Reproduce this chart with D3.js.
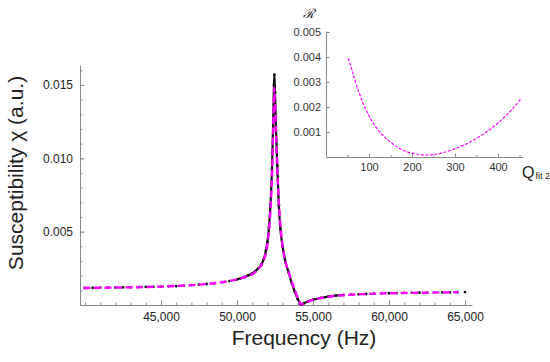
<!DOCTYPE html>
<html>
<head>
<meta charset="utf-8">
<script src="https://cdn.jsdelivr.net/npm/d3@7"></script>
<style>
  body { margin: 0; background: #fff; }
  text { font-family: "Liberation Sans", Arial, sans-serif; }
</style>
</head>
<body>
<div id="chart"></div>
<script>

// measured data (black dots), sparse parts
var dataFreqLeft = [40000, 40500, 41000, 41500, 42000, 42500, 43000, 43500, 44000, 44500,
    45000, 45500, 46000, 46500, 47000, 47500, 48000, 48500, 49000, 49500];
var dataChiLeft = [0.00116, 0.00117, 0.00118, 0.00118, 0.00119, 0.00120, 0.00121, 0.00122, 0.00123, 0.00124,
    0.00125, 0.00127, 0.00129, 0.00132, 0.00135, 0.00139, 0.00143, 0.00148, 0.00155, 0.00163];

// dense part around the resonance
var dataFreqMid = [50000, 50250, 50500, 50750, 51000, 51200, 51400, 51600, 51750, 51900,
    52000, 52100, 52200, 52300, 52380, 52430, 52460, 52500, 52560, 52650,
    52750, 52850, 53000, 53200, 53400, 53600, 53800, 54000, 54150, 54250,
    54400, 54700, 55000, 55500, 56000, 56500, 57000];
var dataChiMid = [0.00174, 0.00182, 0.00191, 0.00202, 0.00215, 0.00230, 0.00250, 0.00276, 0.00310, 0.00370,
    0.00430, 0.00530, 0.00680, 0.00920, 0.01250, 0.01500, 0.01570, 0.01450, 0.01220, 0.00950,
    0.00680, 0.00520, 0.00400, 0.00290, 0.00220, 0.00150, 0.00090, 0.00040, 0.00008, 0.00002,
    0.00012, 0.00026, 0.00036, 0.00048, 0.00057, 0.00064, 0.00068];

var dataFreqRight = [57500, 58000, 58500, 59000, 59500, 60000, 60500, 61000, 61500, 62000,
    62500, 63000, 63500, 64000, 64500, 65000];
var dataChiRight = [0.00071, 0.00073, 0.00075, 0.00077, 0.00078, 0.00080, 0.00081, 0.00082, 0.00083, 0.00084,
    0.00084, 0.00085, 0.00086, 0.00086, 0.00087, 0.00088];

// fit curve (magenta dashed)
var fitFreq = [39900, 42000, 44000, 46000, 48000, 49000, 50000, 50500, 51000, 51400,
    51700, 51950, 52100, 52200, 52300, 52380, 52450, 52500, 52560, 52650,
    52780, 52900, 53000, 53200, 53440, 53700, 53880, 54050, 54220, 54500,
    54950, 55500, 56050, 57150, 58500, 60000, 62500, 64600];
var fitChi = [0.00116, 0.00119, 0.00123, 0.00130, 0.00143, 0.00155, 0.00175, 0.00190, 0.00210, 0.00245,
    0.00290, 0.00380, 0.00500, 0.00640, 0.00880, 0.01200, 0.01480, 0.01400, 0.01200, 0.00920,
    0.00650, 0.00490, 0.00400, 0.00290, 0.00210, 0.00130, 0.00080, 0.00035, 0.00004, 0.00016,
    0.00034, 0.00047, 0.00057, 0.00068, 0.00075, 0.00080, 0.00084, 0.00087];

// inset: residual vs Q
var insetQ = [52, 60, 71, 90, 110, 130, 149, 170, 188, 210,
    230, 250, 270, 304, 335, 366, 390, 412, 435, 455];
var insetR = [0.00395, 0.00350, 0.00288, 0.00200, 0.00135, 0.00090, 0.00061, 0.00035, 0.00021, 0.00012,
    0.00008, 0.00010, 0.00016, 0.00036, 0.00060, 0.00092, 0.00122, 0.00155, 0.00195, 0.00237];

var xTicks = [45000, 50000, 55000, 60000, 65000];
var yTicks = [0.005, 0.010, 0.015];
var insetXTicks = [100, 200, 300, 400];
var insetYTicks = [0.001, 0.002, 0.003, 0.004, 0.005];

var width = 550, height = 362;

var svg = d3.select("#chart")
    .append("svg")
    .attr("width", width)
    .attr("height", height);

var x = d3.scaleLinear().domain([39670, 65460]).range([80, 472]);
var y = d3.scaleLinear().domain([0, 0.01636]).range([305, 65]);

var axisColor = "#8a8a8a";
var textColor = "#222";
var magenta = "#ff00ff";

// minor ticks first
svg.append("g")
    .attr("transform", "translate(0,305)")
    .call(d3.axisBottom(x).tickValues(d3.range(40000, 65001, 1000)).tickSize(-2.5).tickFormat(""))
    .call(function(g) { g.select(".domain").remove(); });
svg.append("g")
    .attr("transform", "translate(80,0)")
    .call(d3.axisLeft(y).tickValues(d3.range(1, 17).map(function(i) { return i / 1000; })).tickSize(-2.5).tickFormat(""))
    .call(function(g) { g.select(".domain").remove(); });

var xAxis = svg.append("g")
    .attr("transform", "translate(0,305)")
    .call(d3.axisBottom(x).tickValues(xTicks).tickSize(-4.5).tickSizeOuter(0).tickPadding(5)
        .tickFormat(d3.format(",")));
var yAxis = svg.append("g")
    .attr("transform", "translate(80,0)")
    .call(d3.axisLeft(y).tickValues(yTicks).tickSize(-4.5).tickSizeOuter(0).tickPadding(7)
        .tickFormat(d3.format(".3f")));

svg.selectAll(".tick line").attr("stroke", axisColor);
svg.selectAll(".domain").attr("stroke", axisColor);
xAxis.selectAll("text").attr("font-size", 12).attr("fill", textColor)
    .attr("font-family", "Liberation Sans, Arial, sans-serif").attr("dy", "0.9em");
yAxis.selectAll("text").attr("font-size", 12).attr("fill", textColor)
    .attr("font-family", "Liberation Sans, Arial, sans-serif");

svg.append("text")
    .attr("transform", "translate(23,173) rotate(-90)")
    .attr("text-anchor", "middle")
    .attr("font-size", 21)
    .attr("fill", textColor)
    .text("Susceptibility \u03C7 (a.u.)");

svg.append("text")
    .attr("x", 304)
    .attr("y", 345)
    .attr("text-anchor", "middle")
    .attr("font-size", 21)
    .attr("fill", textColor)
    .text("Frequency (Hz)");

// data
var line = d3.line()
    .x(function(d) { return x(d[0]); })
    .y(function(d) { return y(d[1]); })
    .curve(d3.curveMonotoneX);

var mid = d3.zip(dataFreqMid, dataChiMid);
var sparse = d3.zip(dataFreqLeft, dataChiLeft).concat(d3.zip(dataFreqRight, dataChiRight));

svg.append("path")
    .datum(mid)
    .attr("fill", "none")
    .attr("stroke", "#111")
    .attr("stroke-width", 2.2)
    .attr("d", line);

svg.selectAll("circle.data")
    .data(sparse.concat(mid))
    .enter()
    .append("circle")
    .attr("class", "data")
    .attr("cx", function(d) { return x(d[0]); })
    .attr("cy", function(d) { return y(d[1]); })
    .attr("r", 1.4)
    .attr("fill", "#111");

svg.append("path")
    .datum(d3.zip(fitFreq, fitChi))
    .attr("fill", "none")
    .attr("stroke", magenta)
    .attr("stroke-width", 2.4)
    .attr("stroke-dasharray", "7,3.5")
    .attr("d", line);

// inset
var xi = d3.scaleLinear().domain([0, 458]).range([326, 523]);
var yi = d3.scaleLinear().domain([0, 0.00504]).range([157, 31]);

var inset = svg.append("g");

inset.append("g")
    .attr("transform", "translate(0,157)")
    .call(d3.axisBottom(xi).tickValues(d3.range(50, 451, 50)).tickSize(-2).tickFormat(""))
    .call(function(g) { g.select(".domain").remove(); });

var xiAxis = inset.append("g")
    .attr("transform", "translate(0,157)")
    .call(d3.axisBottom(xi).tickValues(insetXTicks).tickSize(-3.5).tickSizeOuter(0).tickPadding(4));
var yiAxis = inset.append("g")
    .attr("transform", "translate(326,0)")
    .call(d3.axisLeft(yi).tickValues(insetYTicks).tickSize(-3.5).tickSizeOuter(0).tickPadding(5)
        .tickFormat(d3.format(".3f")));

inset.selectAll(".tick line").attr("stroke", axisColor);
inset.selectAll(".domain").attr("stroke", axisColor);
inset.selectAll("text").attr("font-size", 11).attr("fill", "#333")
    .attr("font-family", "Liberation Sans, Arial, sans-serif");
xiAxis.selectAll("text").attr("dy", "0.9em");

inset.append("text")
    .attr("x", 303)
    .attr("y", 18)
    .attr("font-size", 13)
    .attr("font-family", "DejaVu Sans, sans-serif")
    .attr("font-style", "italic")
    .attr("fill", textColor)
    .text("\u211B");

var qLabel = inset.append("text")
    .attr("x", 522)
    .attr("y", 178)
    .attr("font-size", 16)
    .attr("fill", textColor)
    .text("Q");
qLabel.append("tspan")
    .attr("font-size", 9)
    .attr("dx", 1)
    .attr("dy", 1)
    .text("fit 2");

var lineI = d3.line()
    .x(function(d) { return xi(d[0]); })
    .y(function(d) { return yi(d[1]); })
    .curve(d3.curveCatmullRom);

inset.append("path")
    .datum(d3.zip(insetQ, insetR))
    .attr("fill", "none")
    .attr("stroke", magenta)
    .attr("stroke-width", 1.2)
    .attr("stroke-dasharray", "3,1.6")
    .attr("d", lineI);

</script>
</body>
</html>
